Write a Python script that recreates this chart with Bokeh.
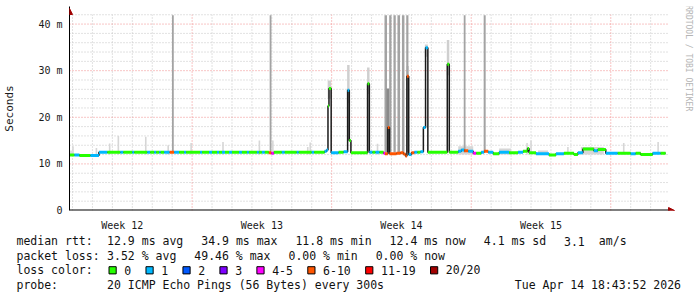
import math
from bokeh.plotting import figure
from bokeh.layouts import column
from bokeh.models import Range1d, FixedTicker, Arrow, NormalHead
from bokeh.core.properties import value
from bokeh.embed import file_html
from bokeh.resources import INLINE

# ---------------- data ----------------
week_labels = ["Week 12", "Week 13", "Week 14", "Week 15"]
week_start_days = [0, 7, 14, 21]          # days since Monday of week 12
y_ticks_ms = [0, 10, 20, 30, 40]
y_tick_labels = ["0", "10 m", "20 m", "30 m", "40 m"]

# median rtt (ms) per sample, step series; loss class index per sample
median_day = [0.85, 1.10, 1.35, 1.90, 2.325, 2.75, 3.40, 3.55, 4.00, 4.10,
              4.75, 4.90, 5.10, 5.20, 5.35, 5.425, 5.60, 5.875, 6.10, 6.35,
              6.60, 6.70, 7.40, 7.50, 7.85, 8.00, 8.25, 8.35, 8.50, 8.65,
              8.85, 9.00, 9.35, 9.50, 9.75, 9.85, 10.25, 10.35, 10.50, 10.65,
              10.85, 10.975, 11.10, 11.50, 11.65, 12.25, 12.35, 13.00, 13.125, 13.65,
              13.75, 13.815, 13.865, 13.975, 14.35, 14.60, 14.80, 14.885, 14.965, 15.80,
              15.89, 16.05, 16.20, 16.40, 16.60, 16.675, 16.815, 16.90, 17.25, 17.45,
              17.60, 17.70, 17.775, 17.865, 18.00, 18.15, 18.30, 18.45, 18.60, 18.71,
              18.825, 19.80, 19.90, 20.35, 20.50, 20.65, 20.85, 21.10, 21.25, 21.50,
              21.65, 21.85, 22.10, 22.40, 22.90, 23.35, 23.60, 23.825, 23.90, 24.25,
              24.90, 25.25, 25.65, 26.15, 26.35, 26.60, 27.15, 27.35, 27.75, 28.35,
              29.00, 29.25, 29.50, 30.10, 30.50]
median_ms = [11.9, 11.9, 11.8, 11.8, 12.5, 12.5, 12.5, 12.5, 12.5, 12.5,
             12.5, 12.5, 12.5, 12.5, 12.5, 12.5, 12.5, 12.5, 12.5, 12.5,
             12.5, 12.5, 12.5, 12.5, 12.5, 12.5, 12.5, 12.5, 12.5, 12.5,
             12.5, 12.5, 12.5, 12.5, 12.5, 12.5, 12.5, 12.5, 12.5, 12.5,
             12.4, 12.3, 12.5, 12.5, 12.5, 12.5, 12.5, 12.5, 12.5, 12.7,
             13.0, 22.4, 26.2, 12.4, 12.5, 12.6, 25.8, 15.0, 12.4, 27.2,
             12.5, 12.5, 12.5, 12.5, 12.3, 12.2, 17.8, 12.2, 12.3, 12.4,
             12.1, 11.7, 28.8, 12.0, 12.4, 12.5, 12.5, 12.6, 17.8, 34.9,
             12.5, 31.4, 12.5, 12.7, 13.0, 12.8, 12.7, 12.3, 12.3, 12.5,
             12.7, 12.5, 12.2, 12.5, 12.4, 12.5, 12.7, 13.3, 12.4, 12.2,
             11.9, 12.2, 12.3, 12.0, 12.4, 13.2, 12.8, 13.1, 12.3, 12.3,
             12.2, 12.3, 12.0, 12.3, 12.3]
median_loss = [0, 1, 0, 1, 1, 0, 1, 0, 1, 0,
               1, 0, 1, 0, 1, 0, 1, 5, 1, 0,
               1, 0, 1, 0, 1, 0, 1, 0, 1, 0,
               1, 0, 1, 0, 1, 0, 1, 0, 1, 0,
               5, 4, 0, 1, 0, 1, 0, 1, 0, 1,
               1, 0, 0, 1, 0, 1, 1, 0, 0, 0,
               1, 0, 1, 0, 4, 5, 5, 5, 5, 5,
               5, 5, 5, 1, 5, 1, 0, 1, 1, 1,
               0, 0, 0, 1, 1, 5, 1, 4, 0, 1,
               5, 1, 0, 1, 0, 1, 0, 0, 0, 1,
               0, 1, 0, 0, 1, 0, 1, 0, 1, 0,
               1, 0, 0, 1, 0]
series_end_day = 30.75

loss_labels = ["0", "1", "2", "3", "4-5", "6-10", "11-19", "20/20"]
loss_colors = ["#26ff00", "#00b8ff", "#0059ff", "#7e00ff",
               "#ff00ff", "#ff5500", "#ff0000", "#a10000"]

# smoke: isolated slow pings just above the median
light_smoke_day = [0.925, 1.025, 2.20, 2.865, 3.30, 4.675, 5.80, 6.95, 8.55, 10.375,
                   11.05, 12.80, 12.925, 16.30, 23.80, 24.00, 25.85, 28.65, 30.375]
light_smoke_top = [12.9, 13.8, 13.4, 14.4, 16.0, 15.8, 14.0, 14.5, 14.7, 15.0,
                   15.0, 13.6, 14.6, 14.3, 14.5, 15.0, 13.6, 14.5, 14.7]
# smoke: wider spread periods
smoke_band_start = [20.35, 22.40, 24.35, 26.50]
smoke_band_end = [21.10, 23.00, 24.85, 27.65]
smoke_band_top = [13.8, 13.3, 12.9, 13.6]
# smoke above the latency spikes
spike_smoke_start = [13.80, 14.775, 15.775, 17.75, 18.675, 19.775]
spike_smoke_end = [13.975, 14.90, 15.90, 17.875, 18.825, 19.90]
spike_smoke_low = [24.0, 23.0, 25.0, 27.0, 33.0, 29.0]
spike_smoke_top = [27.9, 31.2, 30.7, 31.0, 35.6, 36.6]
mid_smoke_start = [16.75]
mid_smoke_end = [16.885]
mid_smoke_top = [26.2]
# outliers reaching the top of the graph
outlier_start = [5.99, 10.89, 16.65, 16.885, 17.10, 17.30, 17.525, 17.74, 20.625, 21.625]
outlier_end = [6.08, 10.98, 16.775, 17.00, 17.215, 17.43, 17.65, 17.85, 20.715, 21.725]
outlier_top_ms = 41.9

rtt_stats = ["12.9 ms avg", "34.9 ms max", "11.8 ms min", "12.4 ms now", "4.1 ms sd"]
am_s_value = "3.1"
am_s_unit = "am/s"
loss_stats = ["3.52 % avg", "49.46 % max", "0.00 % min", "0.00 % now"]
probe_text = "20 ICMP Echo Pings (56 Bytes) every 300s"
timestamp_text = "Tue Apr 14 18:43:52 2026"
watermark_text = "RRDTOOL / TOBI OETIKER"

assert len(median_day) == len(median_ms) == len(median_loss)

# ---------------- layout constants ----------------
W = 697
TOP_H = 233
FRAME_L, FRAME_R, FRAME_T, FRAME_B = 67, 697, 6, 215
PX_PER_DAY = 20.0
X0 = 0.85
X1 = X0 + (FRAME_R - FRAME_L) / PX_PER_DAY
PX_PER_MS = 4.775
Y1 = (FRAME_B - FRAME_T) / PX_PER_MS

def px2x(px):
    return X0 + (px - FRAME_L) / PX_PER_DAY

def py2y(py):
    return (FRAME_B - py) / PX_PER_MS

MONO = "DejaVu Sans Mono"
ARROW_COLOR = "#a00000"
MINOR_GRID = "#c4c4c4"
MAJOR_GRID = "#f08a8a"
GRID_TOP = 42
GRID_RIGHT = px2x(668)
AXIS_RIGHT = px2x(669)

p = figure(width=W, height=TOP_H, x_range=Range1d(X0, X1), y_range=Range1d(0, Y1),
           output_backend="svg", toolbar_location=None,
           min_border_left=FRAME_L, min_border_right=W - FRAME_R,
           min_border_top=FRAME_T, min_border_bottom=TOP_H - FRAME_B)
p.outline_line_color = None
p.grid.visible = False
p.background_fill_color = "white"
p.border_fill_color = "white"
p.frame_align = False

# grid
day_lines = [d for d in range(1, 31) if d % 7 != 0]
week_lines = [d for d in range(1, 31) if d % 7 == 0]
p.segment(x0=day_lines, x1=day_lines, y0=0, y1=GRID_TOP, line_color=MINOR_GRID,
          line_width=1, line_dash="1 2")
h_minor = [v for v in range(2, GRID_TOP + 1, 2) if v % 10 != 0]
h_major = [v for v in range(10, GRID_TOP + 1, 10)]
p.segment(x0=X0, x1=GRID_RIGHT, y0=h_minor, y1=h_minor, line_color=MINOR_GRID,
          line_width=1, line_dash="1 2")
p.segment(x0=week_lines, x1=week_lines, y0=0, y1=GRID_TOP, line_color=MAJOR_GRID,
          line_width=1, line_dash="1 2")
p.segment(x0=X0, x1=GRID_RIGHT, y0=h_major, y1=h_major, line_color=MAJOR_GRID,
          line_width=1, line_dash="1 2")

# smoke
SPIKE_W = 0.08
p.quad(left=[d - SPIKE_W / 2 for d in light_smoke_day],
       right=[d + SPIKE_W / 2 for d in light_smoke_day],
       bottom=12.0, top=light_smoke_top, fill_color="#d6d6d6", line_color=None)
p.quad(left=smoke_band_start, right=smoke_band_end, bottom=12.0, top=smoke_band_top,
       fill_color="#d6d6d6", line_color=None)
p.quad(left=spike_smoke_start, right=spike_smoke_end, bottom=spike_smoke_low,
       top=spike_smoke_top, fill_color="#cfcfcf", line_color=None)
p.quad(left=outlier_start, right=outlier_end, bottom=12.5, top=outlier_top_ms,
       fill_color="#a3a3a3", line_color=None)
p.quad(left=mid_smoke_start, right=mid_smoke_end, bottom=12.5, top=mid_smoke_top,
       fill_color="#8a8a8a", line_color=None)

# median line: thin dark step line + thick loss-coloured segments
step_x = median_day + [series_end_day]
step_y = median_ms + [median_ms[-1]]
p.step(x=step_x, y=step_y, mode="after", line_color="#1a1a1a", line_width=1.5)
seg_x1 = median_day[1:] + [series_end_day]
p.segment(x0=median_day, x1=seg_x1, y0=median_ms, y1=median_ms,
          line_color=[loss_colors[i] for i in median_loss], line_width=3, line_cap="butt")

# x axis line (drawn by hand so that it stops at the arrow head)
p.segment(x0=[X0], x1=[AXIS_RIGHT], y0=[0], y1=[0], line_color="black", line_width=2)

# axes
p.xaxis.ticker = FixedTicker(ticks=[d + 3.5 for d in week_start_days])
p.xaxis.major_label_overrides = {d + 3.5: lab for d, lab in zip(week_start_days, week_labels)}
p.xaxis.major_tick_line_color = None
p.xaxis.minor_tick_line_color = None
p.xaxis.major_label_standoff = 3
p.xaxis.axis_line_color = None
p.yaxis.ticker = FixedTicker(ticks=y_ticks_ms)
p.yaxis.major_label_overrides = {t: lab for t, lab in zip(y_ticks_ms, y_tick_labels)}
p.yaxis.major_tick_line_color = None
p.yaxis.minor_tick_line_color = None
p.yaxis.major_tick_out = 0
p.yaxis.major_tick_in = 0
p.yaxis.major_label_standoff = 7
p.yaxis.axis_line_color = "black"
p.yaxis.axis_label = "Seconds"
p.yaxis.axis_label_standoff = 19
p.yaxis.axis_label_text_font = MONO
p.yaxis.axis_label_text_font_size = "11px"
p.yaxis.axis_label_text_font_style = "normal"
p.yaxis.axis_label_text_color = "#1a1a1a"
for ax in (p.xaxis, p.yaxis):
    ax.major_label_text_font = MONO
    ax.major_label_text_font_size = "10px"
    ax.major_label_text_color = "#1a1a1a"

# arrow heads
p.add_layout(Arrow(end=NormalHead(size=6, fill_color=ARROW_COLOR, line_color=ARROW_COLOR),
                   x_start=px2x(668), y_start=0, x_end=px2x(674), y_end=0,
                   line_color=ARROW_COLOR, line_width=1))
p.add_layout(Arrow(end=NormalHead(size=6, fill_color=ARROW_COLOR, line_color=ARROW_COLOR),
                   x_start=X0, y_start=py2y(14), y_end=py2y(8), x_end=X0,
                   line_color=ARROW_COLOR, line_width=1))

# rrdtool watermark on the right margin
p.text(x=[px2x(688)], y=[py2y(59)], text=[watermark_text], angle=-math.pi / 2,
       text_align="center", text_baseline="middle", text_font=value(MONO),
       text_font_size=value("8px"), text_color="#b4b4b4")

# ---------------- legend canvas ----------------
LEG_TOP = TOP_H
p2 = figure(width=W, height=297 - LEG_TOP, x_range=Range1d(0, W), y_range=Range1d(297, LEG_TOP),
            output_backend="svg", toolbar_location=None, min_border=0,
            min_border_left=0, min_border_right=0, min_border_top=0, min_border_bottom=0,
            x_axis_type=None, y_axis_type=None)
p2.outline_line_color = None
p2.background_fill_color = "white"
p2.border_fill_color = "white"
p2.frame_align = False

CW = 6.97
GAP = 17.5
COL0 = 16
COL1 = 106.6
ROWS = [240.5, 255.0, 269.5, 284.0]

tx, ty, tt = [], [], []
def put(x, y, s):
    tx.append(x); ty.append(y); tt.append(s)

put(COL0, ROWS[0], "median rtt:")
x = COL1
for s in rtt_stats:
    put(x, ROWS[0], s)
    x += len(s) * CW + GAP
put(x, ROWS[0], am_s_value)
put(x + 5 * CW, ROWS[0], am_s_unit)

put(COL0, ROWS[1], "packet loss:")
x = COL1
for s in loss_stats:
    put(x, ROWS[1], s)
    x += len(s) * CW + GAP

put(COL0, ROWS[2], "loss color:")
box_left = []
x = COL1 + 1.7
for lab in loss_labels:
    box_left.append(x)
    put(x + 15.5, ROWS[2], lab)
    x += 15.5 + len(lab) * CW + 14.5

put(COL0, ROWS[3], "probe:")
put(COL1, ROWS[3], probe_text)

p2.text(x=tx, y=ty, text=tt, text_font=value(MONO), text_font_size=value("11.5px"),
        text_baseline="middle", text_align="left", text_color="#111111")
p2.text(x=[680.5], y=[ROWS[3]], text=[timestamp_text], text_font=value(MONO),
        text_font_size=value("11.5px"), text_baseline="middle", text_align="right",
        text_color="#111111")
p2.rect(x=[b + 3.8 for b in box_left], y=ROWS[2] + 0.3, width=7.2, height=7.2,
        fill_color=loss_colors, line_color="black", line_width=1)

layout = column(p, p2, spacing=0)
open("out.html", "w").write(file_html(layout, INLINE))
